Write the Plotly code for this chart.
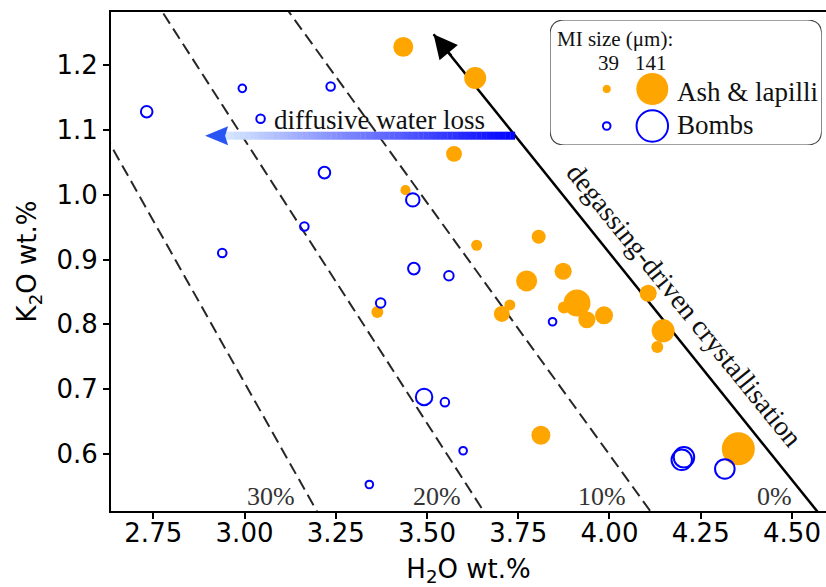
import plotly.graph_objects as go

# ---------------- data ----------------
ash_h2o = [3.435, 3.632, 3.574, 3.441, 3.636, 3.806, 3.873, 3.773, 3.911, 3.875,
           3.938, 3.985, 3.705, 3.727, 3.364, 4.106, 4.147, 4.131, 4.353, 3.812]
ash_k2o = [1.228, 1.180, 1.063, 1.007, 0.922, 0.935, 0.882, 0.867, 0.833, 0.826,
           0.807, 0.814, 0.816, 0.830, 0.819, 0.848, 0.790, 0.765, 0.608, 0.629]
ash_mi = [85, 94, 68, 43, 47, 60, 73, 90, 115, 51,
          73, 77, 68, 47, 51, 73, 98, 51, 141, 81]

bomb_h2o = [2.732, 2.994, 3.236, 3.044, 3.219, 3.461, 3.164, 2.939, 3.464, 3.560,
            3.373, 3.844, 3.492, 3.549, 3.599, 3.342, 4.198, 4.204, 4.316]
bomb_k2o = [1.128, 1.164, 1.167, 1.117, 1.034, 0.992, 0.951, 0.910, 0.886, 0.875,
            0.833, 0.804, 0.688, 0.680, 0.605, 0.553, 0.591, 0.595, 0.577]
bomb_mi = [56, 39, 43, 43, 56, 64, 43, 43, 56, 47,
           47, 39, 77, 43, 39, 39, 94, 94, 90]

legend_mi = [39, 141]
loss_fractions = [0.0, 0.1, 0.2, 0.3]
loss_labels = ["0%", "10%", "20%", "30%"]

# degassing-driven crystallisation trend: K2O = a + b * H2O
degas_a = 3.71
degas_b = -0.70
degas_tip_k2o = 1.2474
water_arrow_k2o = 1.091
water_arrow_end_h2o = 2.892

XR = [2.6342, 4.5932]
YR = [0.5121, 1.2818]

SERIF = "Liberation Serif"
SANS = "DejaVu Sans"


def h2o_on_trend(k2o, f=0.0):
    return (1 - f) * (k2o - degas_a) / degas_b


def msize(v):
    return 0.234 * v


fig = go.Figure()

# dashed water-loss lines
for f in loss_fractions[1:]:
    ys = [0.40, 1.40]
    fig.add_trace(go.Scatter(x=[h2o_on_trend(y, f) for y in ys], y=ys, mode="lines",
                             line=dict(color="rgba(0,0,0,0.85)", width=2, dash="12px,6px"),
                             hoverinfo="skip", showlegend=False))

# solid degassing trend
ys = [0.40, degas_tip_k2o]
fig.add_trace(go.Scatter(x=[h2o_on_trend(y) for y in ys], y=ys, mode="lines",
                         line=dict(color="black", width=2.5),
                         hoverinfo="skip", showlegend=False))

# data
fig.add_trace(go.Scatter(x=ash_h2o, y=ash_k2o, mode="markers", name="Ash & lapilli",
                         marker=dict(color="#FFA500", opacity=1, size=[msize(v) for v in ash_mi],
                                     line=dict(width=0)),
                         showlegend=False))
fig.add_trace(go.Scatter(x=bomb_h2o, y=bomb_k2o, mode="markers", name="Bombs",
                         marker=dict(color="rgba(0,0,0,0)", opacity=1,
                                     size=[msize(v) - 1.5 for v in bomb_mi],
                                     line=dict(color="#0000FF", width=2)),
                         showlegend=False))

# legend markers (in an overlay axis)
fig.add_trace(go.Scatter(x=[0.2087, 0.3765], y=[0.448, 0.448], xaxis="x2", yaxis="y2",
                         mode="markers", marker=dict(color="#FFA500", opacity=1,
                                                     size=[msize(v) for v in legend_mi]),
                         hoverinfo="skip", showlegend=False, cliponaxis=False))
fig.add_trace(go.Scatter(x=[0.2087, 0.3765], y=[0.152, 0.152], xaxis="x2", yaxis="y2",
                         mode="markers", marker=dict(color="rgba(0,0,0,0)", opacity=1,
                                                     size=[msize(v) - 1.5 for v in legend_mi],
                                                     line=dict(color="#0000FF", width=2)),
                         hoverinfo="skip", showlegend=False, cliponaxis=False))

shapes = []
# gradient arrow for diffusive water loss
y_px = 1 / 648.3
x_px = 1 / 365.0
start_x = h2o_on_trend(water_arrow_k2o)
notch_x = water_arrow_end_h2o + 20 * x_px
back_x = water_arrow_end_h2o + 23 * x_px
half = 4 * y_px
n = 60
c0 = (215, 232, 255)
c1 = (0, 0, 255)
for i in range(n):
    t0 = i / n
    t1 = (i + 1) / n
    xa = notch_x + (start_x - notch_x) * t0
    xb = notch_x + (start_x - notch_x) * t1 + 0.001
    tm = (t0 + t1) / 2
    col = "rgb(%d,%d,%d)" % tuple(round(c0[k] + (c1[k] - c0[k]) * tm) for k in range(3))
    shapes.append(dict(type="rect", xref="x", yref="y", x0=xa, x1=min(xb, start_x),
                       y0=water_arrow_k2o - half, y1=water_arrow_k2o + half,
                       fillcolor=col, line=dict(width=0), layer="above"))
hw = 9.5 * y_px
shapes.append(dict(type="path", xref="x", yref="y", layer="above",
                   path=f"M {water_arrow_end_h2o},{water_arrow_k2o} L {back_x},{water_arrow_k2o + hw} "
                        f"L {notch_x},{water_arrow_k2o} L {back_x},{water_arrow_k2o - hw} Z",
                   fillcolor="#2A55F5", line=dict(width=0)))

# legend box
rx, ry = 0.055, 0.12
shapes.append(dict(type="path", xref="x2", yref="y2", layer="below",
                   path=f"M {rx},0 L {1-rx},0 Q 1,0 1,{ry} L 1,{1-ry} Q 1,1 {1-rx},1 L {rx},1 "
                        f"Q 0,1 0,{1-ry} L 0,{ry} Q 0,0 {rx},0 Z",
                   fillcolor="white", line=dict(color="#444444", width=1.2)))

annotations = []
# arrowhead of degassing trend
annotations.append(dict(x=h2o_on_trend(degas_tip_k2o), y=degas_tip_k2o, xref="x", yref="y",
                        ax=19, ay=23, text="", showarrow=True, arrowhead=2, arrowsize=1.9,
                        arrowwidth=2.5, arrowcolor="black"))
# percentage labels
lab_y = 0.535
for f, lab in zip(loss_fractions, loss_labels):
    annotations.append(dict(x=h2o_on_trend(lab_y, f), y=lab_y, xref="x", yref="y",
                            text=lab, showarrow=False, xanchor="right", yanchor="middle",
                            xshift=-11, font=dict(family=SERIF, size=26, color="#333333")))
annotations.append(dict(x=3.0745, y=1.115, xref="x", yref="y", text="diffusive water loss",
                        showarrow=False, xanchor="left", yanchor="middle",
                        font=dict(family=SERIF, size=27, color="#111111")))
annotations.append(dict(x=4.1986, y=0.8344, xref="x", yref="y", text="degassing-driven crystallisation",
                        showarrow=False, textangle=50.9, xanchor="center", yanchor="middle",
                        xshift=3, yshift=-3,
                        font=dict(family=SERIF, size=28, color="#111111")))
# legend texts
annotations += [
    dict(x=0.0184, y=0.848, xref="x2", yref="y2", text="MI size (μm):", showarrow=False,
         xanchor="left", yanchor="middle", font=dict(family=SERIF, size=21, color="#111111")),
    dict(x=0.217, y=0.656, xref="x2", yref="y2", text=str(legend_mi[0]), showarrow=False,
         xanchor="center", yanchor="middle", font=dict(family=SERIF, size=21, color="#111111")),
    dict(x=0.3735, y=0.656, xref="x2", yref="y2", text=str(legend_mi[1]), showarrow=False,
         xanchor="center", yanchor="middle", font=dict(family=SERIF, size=21, color="#111111")),
    dict(x=0.46, y=0.4264, xref="x2", yref="y2", text="Ash & lapilli", showarrow=False,
         xanchor="left", yanchor="middle", font=dict(family=SERIF, size=27, color="#111111")),
    dict(x=0.46, y=0.16, xref="x2", yref="y2", text="Bombs", showarrow=False,
         xanchor="left", yanchor="middle", font=dict(family=SERIF, size=27, color="#111111")),
]

fig.update_layout(
    width=826, height=587,
    margin=dict(l=111, r=0, t=12, b=76),
    paper_bgcolor="white", plot_bgcolor="white",
    showlegend=False,
    shapes=shapes, annotations=annotations,
    xaxis=dict(range=XR, showgrid=False, zeroline=False, showline=True, mirror=True,
               linecolor="black", linewidth=2, ticks="outside", ticklen=6, tickwidth=1.5,
               tickcolor="black", tick0=2.75, dtick=0.25, tickformat=".2f",
               ticklabelstandoff=-8,
               tickfont=dict(family=SANS, size=26, color="black"),
               title=dict(text="H<sub>2</sub>O wt.%", font=dict(family=SANS, size=26, color="black"),
                          standoff=14),
               automargin=False),
    yaxis=dict(range=YR, showgrid=False, zeroline=False, showline=True, mirror=False,
               linecolor="black", linewidth=2, ticks="outside", ticklen=6, tickwidth=1.5,
               tickcolor="black", tick0=0.6, dtick=0.1, tickformat=".1f",
               tickfont=dict(family=SANS, size=26, color="black"),
               title=dict(text="K<sub>2</sub>O wt.%", font=dict(family=SANS, size=26, color="black"),
                          standoff=12),
               automargin=False),
    xaxis2=dict(domain=[0.614, 0.994], range=[0, 1], visible=False, anchor="y2", fixedrange=True),
    yaxis2=dict(domain=[0.7335, 0.984], range=[0, 1], visible=False, anchor="x2", fixedrange=True),
)

fig.write_html("out.html", config={"displayModeBar": False},
               post_script="document.body.style.margin='0';document.body.style.overflow='hidden';")
